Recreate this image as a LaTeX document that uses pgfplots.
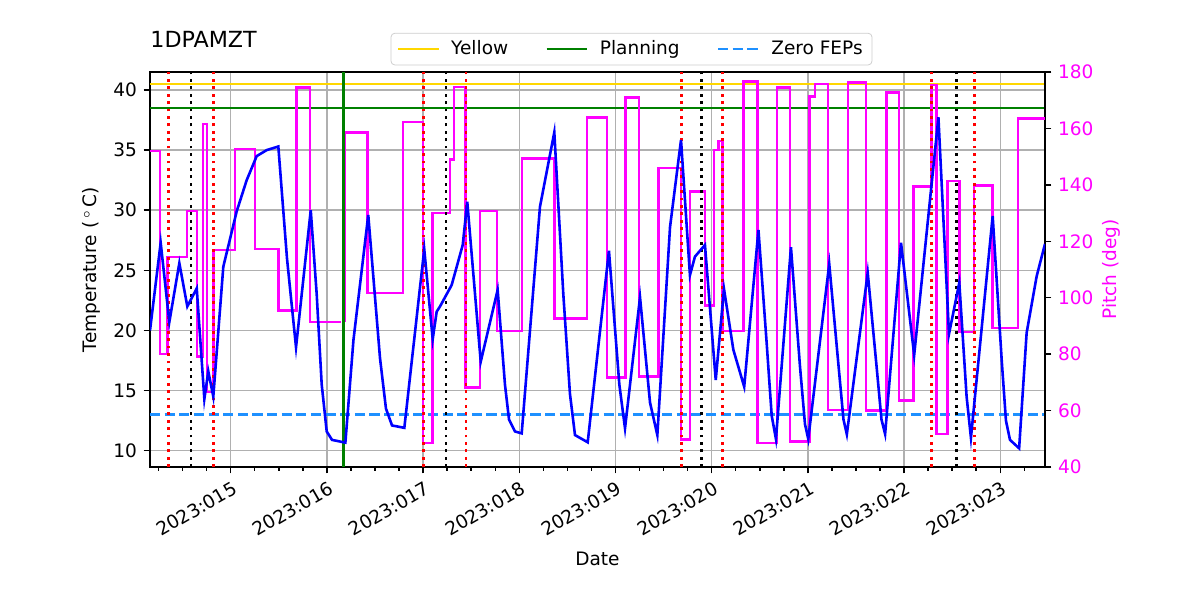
\documentclass[border=0pt]{standalone}
\usepackage{pgfplots}
\pgfplotsset{compat=1.18}
\usepackage{fontspec}
\setmainfont{DejaVu Sans}
\definecolor{cgold}{HTML}{FFD700}
\definecolor{cgreen}{HTML}{008000}
\definecolor{cdodger}{HTML}{1E90FF}
\definecolor{cmag}{HTML}{FF00FF}
\definecolor{cblue}{HTML}{0000FF}
\definecolor{cred}{HTML}{FF0000}
\definecolor{cgrid}{HTML}{B0B0B0}
\begin{document}
\fontsize{10}{12}\selectfont
\begin{tikzpicture}
\path[use as bounding box] (0,0) rectangle (648pt,324pt);
\pgfplotsset{
  base/.style={scale only axis, width=483.3pt, height=213.3pt,
    at={(81pt,71.82pt)}, anchor=south west,
    xmin=14.161, xmax=23.465,
    tick align=outside, major tick length=3.5pt, minor tick length=2pt,
    every tick/.style={black, line width=0.8pt},
    axis line style={line width=0.8pt},
    tick label style={font=\fontsize{10}{12}\selectfont},
    label style={font=\fontsize{10}{12}\selectfont},
    /pgf/number format/assume math mode=true,
  },
  vline/.style={line width=1.5pt, dash pattern=on 1.5pt off 2.5pt},
}
% Axis A: temperature frame, grid, limit lines, legend
\begin{axis}[base,
  ymin=8.644, ymax=41.497,
  ytick={10,15,...,40},
  xtick={15,...,23},
  xticklabels={2023:015,2023:016,2023:017,2023:018,2023:019,2023:020,2023:021,2023:022,2023:023},
  minor xtick={14.25,14.5,...,23.25},
  xtick pos=bottom, ytick pos=left,
  grid=major, major grid style={color=cgrid, line width=0.8pt},
  xticklabel style={rotate=30, anchor=north east, xshift=2pt},
  xlabel={Date}, ylabel={Temperature (\,$^\circ\,$C)},
  title={1DPAMZT},
  title style={at={(0,1)}, anchor=base west, yshift=7.4pt, inner sep=0pt, font=\fontsize{12}{14}\selectfont},
  legend columns=3,
  legend cell align=left,
  legend image code/.code={\draw[#1] (0pt,0pt) -- (22pt,0pt);},
  legend style={at={(0.538,1.058)}, anchor=center, draw=black!20, rounded corners=2pt, fill=white,
    font=\fontsize{10}{12}\selectfont, inner xsep=3pt, inner ysep=2pt,
    /tikz/every odd column/.append style={column sep=4pt},
    /tikz/every even column/.append style={column sep=18pt}},
]
\addplot[cgold, line width=1.5pt] coordinates {(14.161,40.5)(23.465,40.5)};
\addlegendentry{Yellow}
\addplot[cgreen, line width=1.5pt] coordinates {(14.161,38.5)(23.465,38.5)};
\addlegendentry{Planning}
\addplot[cdodger, line width=1.5pt, dash pattern=on 5.5pt off 2.4pt] coordinates {(14.161,13.0)(23.465,13.0)};
\addlegendentry{Zero FEPs}
\end{axis}
% Axis B: pitch
\begin{axis}[base,
  ymin=40, ymax=180,
  axis y line*=right, axis x line=none,
  ytick={40,60,...,180},
  yticklabel style={text=cmag},
  ylabel={Pitch (deg)}, ylabel style={text=cmag, yshift=2pt},
]
\addplot[cmag, line width=1.3pt] coordinates {
(14.161,152)(14.265,152)(14.265,80)(14.345,80)(14.345,114.4)(14.543,114.4)(14.543,130.7)(14.647,130.7)(14.647,79.2)(14.715,79.2)(14.715,161.5)(14.751,161.5)(14.751,66.5)(14.819,66.5)(14.819,117)(15.045,117)(15.045,152.7)(15.253,152.7)(15.253,117.3)(15.495,117.3)(15.495,95.5)(15.686,95.5)(15.686,174.5)(15.824,174.5)(15.824,91.3)(16.146,91.3)
};
\addplot[cmag, line width=1.3pt] coordinates {
(16.19,91.3)(16.19,158.5)(16.424,158.5)(16.424,101.7)(16.794,101.7)(16.794,162.3)(16.996,162.3)(16.996,48.6)(17.096,48.6)(17.096,130.1)(17.280,130.1)(17.280,149)(17.322,149)(17.322,174.7)(17.441,174.7)(17.441,68.2)(17.591,68.2)(17.591,130.7)(17.771,130.7)(17.771,88.1)(18.025,88.1)(18.025,149.4)(18.364,149.4)(18.364,92.6)(18.701,92.6)(18.701,163.9)(18.909,163.9)(18.909,71.7)(19.106,71.7)(19.106,171)(19.244,171)(19.244,72.1)(19.445,72.1)(19.445,145.9)(19.678,145.9)(19.678,49.8)(19.774,49.8)(19.774,137.6)(19.930,137.6)(19.930,97.2)(20.024,97.2)(20.024,152.3)(20.069,152.3)(20.069,155.6)(20.114,155.6)(20.114,88.1)(20.329,88.1)(20.329,176.7)(20.476,176.7)(20.476,48.6)(20.676,48.6)(20.676,174.5)(20.814,174.5)(20.814,49)(21.015,49)(21.015,171.3)(21.074,171.3)(21.074,175.7)(21.212,175.7)(21.212,60.2)(21.420,60.2)(21.420,176.3)(21.604,176.3)(21.604,60)(21.819,60)(21.819,172.8)(21.947,172.8)(21.947,63.6)(22.096,63.6)(22.096,139.4)(22.287,139.4)(22.287,175.3)(22.339,175.3)(22.339,51.7)(22.453,51.7)(22.453,141.4)(22.574,141.4)(22.574,87.9)(22.727,87.9)(22.727,139.8)(22.921,139.8)(22.921,89.3)(23.187,89.3)(23.187,163.5)(23.465,163.5)
};
\end{axis}
% Axis C: event lines and temperature
\begin{axis}[base, ymin=8.644, ymax=41.497, hide axis]
\addplot[cred, vline] coordinates {(14.351,8.644)(14.351,41.497)};
\addplot[cred, vline] coordinates {(14.819,8.644)(14.819,41.497)};
\addplot[cred, vline] coordinates {(17.002,8.644)(17.002,41.497)};
\addplot[cred, vline] coordinates {(17.446,8.644)(17.446,41.497)};
\addplot[cred, vline] coordinates {(19.688,8.644)(19.688,41.497)};
\addplot[cred, vline] coordinates {(20.110,8.644)(20.110,41.497)};
\addplot[cred, vline] coordinates {(22.283,8.644)(22.283,41.497)};
\addplot[cred, vline] coordinates {(22.730,8.644)(22.730,41.497)};
\addplot[black, vline] coordinates {(14.587,8.644)(14.587,41.497)};
\addplot[black, vline] coordinates {(17.238,8.644)(17.238,41.497)};
\addplot[black, vline] coordinates {(19.896,8.644)(19.896,41.497)};
\addplot[black, vline] coordinates {(22.547,8.644)(22.547,41.497)};
\addplot[cgreen, line width=1.5pt] coordinates {(16.170,8.644)(16.170,41.497)};
\addplot[cblue, line width=1.4pt] coordinates {
(14.161,20.0)(14.272,27.3)(14.362,20.7)(14.466,25.6)(14.549,22.0)(14.647,23.5)(14.726,14.3)(14.767,16.6)(14.819,14.5)(14.923,25.3)(15.062,29.9)(15.166,32.5)(15.270,34.5)(15.374,35.0)(15.495,35.3)(15.585,26.0)(15.679,18.6)(15.832,30.0)(15.894,23.0)(15.946,15.5)(15.998,11.6)(16.053,10.9)(16.192,10.67)(16.276,19.2)(16.430,29.6)(16.552,17.7)(16.614,13.5)(16.677,12.1)(16.805,11.9)(17.012,26.75)(17.100,19.27)(17.141,21.56)(17.176,22.0)(17.297,23.78)(17.412,27.11)(17.459,30.71)(17.599,17.4)(17.775,23.37)(17.851,15.5)(17.893,12.6)(17.955,11.6)(18.025,11.44)(18.215,30.29)(18.364,36.48)(18.457,23.1)(18.527,14.7)(18.579,11.3)(18.711,10.7)(18.932,26.63)(19.040,15.5)(19.099,11.86)(19.255,22.76)(19.359,14.0)(19.435,11.3)(19.567,28.6)(19.681,35.84)(19.774,24.6)(19.826,26.14)(19.930,27.11)(20.042,15.88)(20.128,23.45)(20.225,18.4)(20.338,15.32)(20.486,28.36)(20.572,18.9)(20.624,12.9)(20.668,10.97)(20.824,26.92)(20.918,17.0)(20.970,12.2)(21.004,10.97)(21.222,25.53)(21.325,16.5)(21.370,12.6)(21.405,11.36)(21.622,24.8)(21.720,16.5)(21.765,12.6)(21.803,11.39)(21.968,27.3)(22.105,17.96)(22.357,37.73)(22.467,19.7)(22.574,23.97)(22.650,14.5)(22.695,11.08)(22.921,29.52)(23.015,17.5)(23.059,12.5)(23.101,10.9)(23.196,10.2)(23.274,19.8)(23.378,24.5)(23.465,27.2)
};
\end{axis}
\end{tikzpicture}
\end{document}
